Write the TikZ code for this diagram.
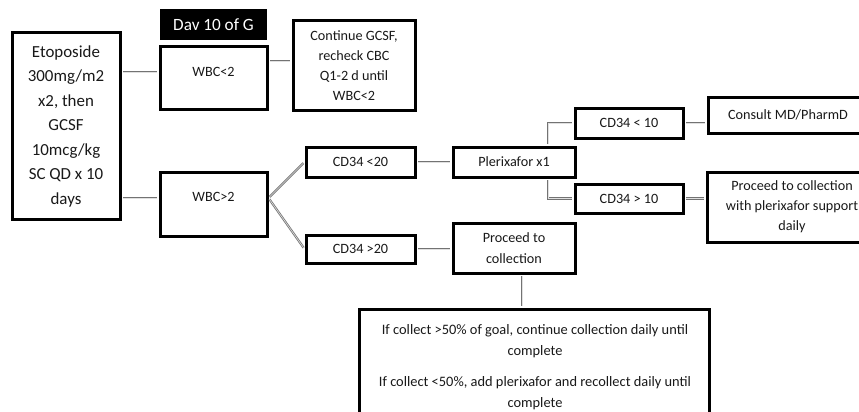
\documentclass[tikz,border=0pt]{standalone}
\usepackage{fontspec}
\setmainfont{Carlito}
\begin{document}
\begin{tikzpicture}[x=1pt,y=-1pt,
  box/.style={draw=black, line width=3pt, inner sep=0pt, fill=white},
  txt/.style={font=\fontsize{14.2}{20}\selectfont, align=center, inner sep=0pt, text=black!90},
  conn/.style={draw=black!55, line width=0.8pt, double=black!12, double distance=0.6pt, shorten <=1.5pt, shorten >=1.5pt}]
\useasboundingbox (0,0) rectangle (859,412);
\clip (0,0) rectangle (859,412);
\fill[white] (0,0) rectangle (859,412);

\node[box, txt, font=\fontsize{16.9}{24.5}\selectfont, minimum width=108pt, minimum height=186pt] (etop) at (66,126) {Etoposide\\300mg/m2\\x2, then\\GCSF\\10mcg/kg\\SC QD x 10\\days};
\node[fill=black, minimum width=107pt, minimum height=31pt, inner sep=0pt, text=white, font=\fontsize{17.2}{20}\selectfont] (dav) at (213.5,24.5) {Dav 10 of G};

\node[box, minimum width=107pt, minimum height=62pt] (wa) at (213.5,78) {};
\node[txt] (wat) at (213.5,72) {WBC<2};
\node[box, minimum width=107pt, minimum height=64pt] (wb) at (213.5,204) {};
\node[txt] (wbt) at (213.5,197) {WBC>2};

\node[box, txt, minimum width=122pt, minimum height=89pt] (cont) at (354,65.5) {Continue GCSF,\\recheck CBC\\Q1-2 d until\\WBC<2};

\node[box, txt, minimum width=109pt, minimum height=30pt] (c20a) at (360.5,162) {CD34 <20};
\node[box, txt, minimum width=122pt, minimum height=30pt] (plx) at (514,162) {Plerixafor x1};
\node[box, txt, minimum width=109pt, minimum height=28pt] (c20b) at (360.5,249) {CD34 >20};
\node[box, txt, font=\fontsize{14.2}{21}\selectfont, minimum width=122pt, minimum height=50pt] (proc) at (514,248) {Proceed to\\collection};

\node[box, txt, minimum width=108pt, minimum height=30pt] (c10a) at (629,123) {CD34 < 10};
\node[box, txt, minimum width=160pt, minimum height=36pt] (cons) at (788,115) {Consult MD/PharmD};
\node[box, txt, minimum width=108pt, minimum height=29pt] (c10b) at (629,198.5) {CD34 > 10};
\node[box, txt, minimum width=170pt, minimum height=70pt] (procp) at (792,207) {Proceed to collection\\with plerixafor support\\daily};

\node[box, minimum width=350pt, minimum height=140pt] (bot) at (534,379) {};
\node[txt, font=\fontsize{14.4}{21}\selectfont] (bott) at (535,367) {If collect >50\% of goal, continue collection daily until\\complete\\[10pt]If collect <50\%, add plerixafor and recollect daily until\\complete};

\coordinate (ya) at (0,72);
\coordinate (yb) at (0,198);
\coordinate (yc) at (0,61);
\coordinate (xp) at (548,0);
\coordinate (xq) at (522,0);

\draw[conn] (etop.east |- ya) -- (wa.west |- ya);
\draw[conn] (etop.east |- yb) -- (wb.west |- yb);
\draw[conn] (wa.east |- yc) -- (cont.west |- yc);
\draw[conn] (wb.east |- yb) -- (c20a.west);
\draw[conn] (wb.east |- yb) -- (c20b.west);
\draw[conn] (c20a.east) -- (plx.west);
\draw[conn] (c20b.east) -- (proc.west |- c20b.east);
\draw[conn] (plx.north -| xp) |- (c10a.west);
\draw[conn] (plx.south -| xp) |- (c10b.west);
\draw[conn] (c10a.east) -- (cons.west |- c10a.east);
\draw[conn] (c10b.east) -- (procp.west |- c10b.east);
\draw[conn] (proc.south -| xq) -- (bot.north -| xq);
\end{tikzpicture}
\end{document}
